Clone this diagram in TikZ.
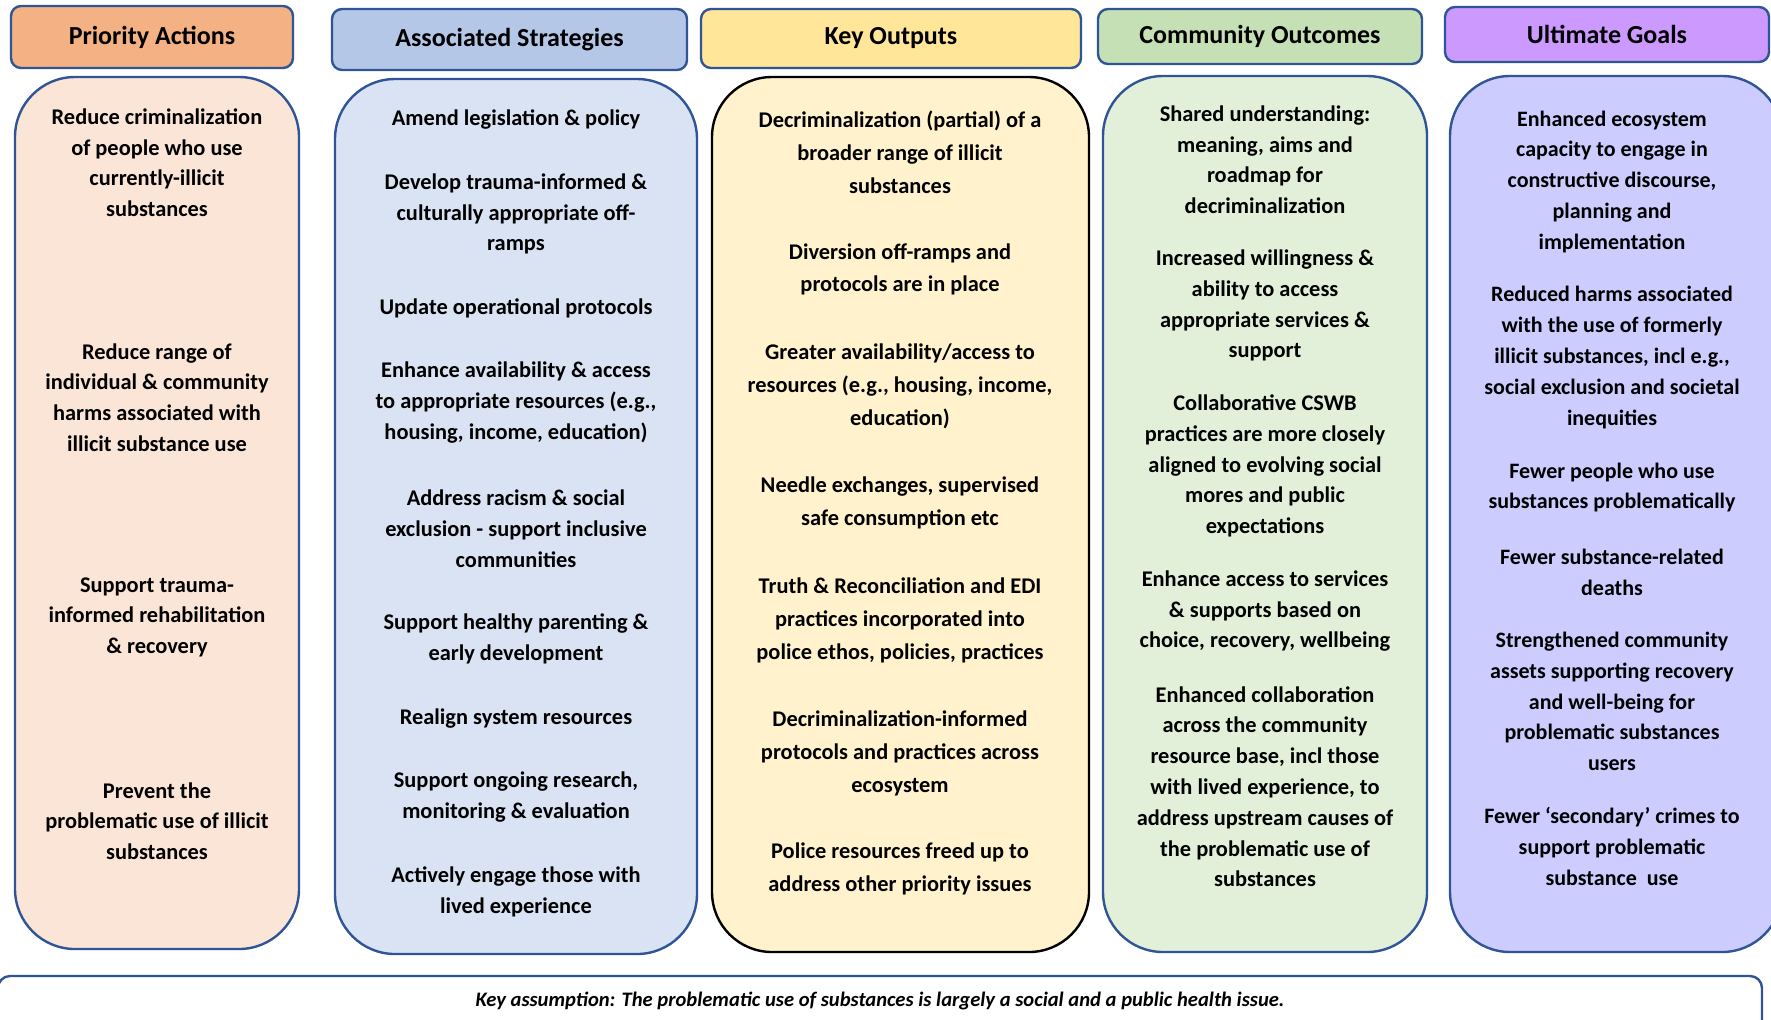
\documentclass[tikz,border=0pt]{standalone}
\usepackage{fontspec}
\setmainfont{Carlito}

\definecolor{bordblue}{HTML}{2F5597}
\definecolor{hd1}{HTML}{F4B183}
\definecolor{hd2}{HTML}{B4C7E7}
\definecolor{hd3}{HTML}{FFE699}
\definecolor{hd4}{HTML}{C5E0B4}
\definecolor{hd5}{HTML}{CC99FF}
\definecolor{pnl1}{HTML}{FBE5D6}
\definecolor{pnl2}{HTML}{DAE3F3}
\definecolor{pnl3}{HTML}{FFF2CC}
\definecolor{pnl4}{HTML}{E2F0D9}
\definecolor{pnl5}{HTML}{CCCCFF}

\begin{document}
\begin{tikzpicture}[x=0.5pt,y=-0.5pt,
    header/.style={draw=bordblue, line width=1.2pt, rounded corners=5pt,
        font=\bfseries\fontsize{13}{15}\selectfont, inner sep=0pt},
    panel/.style={line width=1.2pt, rounded corners=30pt, inner sep=0pt},
    item/.style={align=center, font=\bfseries\fontsize{11.2}{15.4}\selectfont, inner sep=0pt}]
    \clip (0,0) rectangle (1771,1019);
    % Headers
    \foreach \name/\i/\x/\y/\w/\h in {Priority Actions/1/152/37/141/31,
        Associated Strategies/2/509.5/39.5/177.5/30.5,
        Key Outputs/3/891/38.5/190/29.5,
        Community Outcomes/4/1260/36.5/162/27.5,
        Ultimate Goals/5/1607/34.5/162/27.5} {
        \node[header, fill=hd\i, minimum width=\w pt, minimum height=\h pt]
        (Header-\i) at (\x,\y) {\name};
    }
    % Panels
    \foreach \i/\x/\y/\w/\h/\edge in {1/157/513/142/436/bordblue,
        2/516/516.5/181/437.5/bordblue,
        3/900.5/514.5/188.5/437.5/black,
        4/1265/514/162/438/bordblue,
        5/1616/514/166/438/bordblue} {
        \node[panel, draw=\edge, fill=pnl\i, minimum width=\w pt, minimum height=\h pt]
        (Panel-\i) at (\x,\y) {};
    }
    % Priority actions
    \foreach \y/\txt [count=\i] in {
        162.6/{Reduce criminalization\\of people who use\\currently-illicit\\substances},
        397.6/{Reduce range of\\individual \& community\\harms associated with\\illicit substance use},
        617.3/{Support trauma-\\informed rehabilitation\\\& recovery},
        821.1/{Prevent the\\problematic use of illicit\\substances}} {
        \node[item] (Action-\i) at (157,\y) {\txt};
    }
    % Associated strategies
    \foreach \y/\txt [count=\i] in {
        119.7/{Amend legislation \& policy},
        214.0/{Develop trauma-informed \&\\culturally appropriate off-\\ramps},
        308.4/{Update operational protocols},
        402.7/{Enhance availability \& access\\to appropriate resources (e.g.,\\housing, income, education)},
        528.6/{Address racism \& social\\exclusion - support inclusive\\communities},
        638.7/{Support healthy parenting \&\\early development},
        718.4/{Realign system resources},
        796.9/{Support ongoing research,\\monitoring \& evaluation},
        891.7/{Actively engage those with\\lived experience}} {
        \node[item] (Strategy-\i) at (516,\y) {\txt};
    }
    % Key outputs
    \foreach \y/\txt [count=\i] in {
        152.5/{Decriminalization (partial) of a\\broader range of illicit\\substances},
        269.4/{Diversion off-ramps and\\protocols are in place},
        386.3/{Greater availability/access to\\resources (e.g., housing, income,\\education)},
        503.2/{Needle exchanges, supervised\\safe consumption etc},
        620.1/{Truth \& Reconciliation and EDI\\practices incorporated into\\police ethos, policies, practices},
        753.4/{Decriminalization-informed\\protocols and practices across\\ecosystem},
        869.2/{Police resources freed up to\\address other priority issues}} {
        \node[item, font=\bfseries\fontsize{11.2}{16.4}\selectfont] (Output-\i) at (900,\y) {\txt};
    }
    % Community outcomes
    \foreach \y/\txt [count=\i] in {
        159.8/{Shared understanding:\\meaning, aims and\\roadmap for\\decriminalization},
        305.5/{Increased willingness \&\\ability to access\\appropriate services \&\\support},
        465.9/{Collaborative CSWB\\practices are more closely\\aligned to evolving social\\mores and public\\expectations},
        611.1/{Enhance access to services\\\& supports based on\\choice, recovery, wellbeing},
        786.7/{Enhanced collaboration\\across the community\\resource base, incl those\\with lived experience, to\\address upstream causes of\\the problematic use of\\substances}} {
        \node[item] (Outcome-\i) at (1265,\y) {\txt};
    }
    % Ultimate goals
    \foreach \y/\txt [count=\i] in {
        181.8/{Enhanced ecosystem\\capacity to engage in\\constructive discourse,\\planning and\\implementation},
        357.5/{Reduced harms associated\\with the use of formerly\\illicit substances, incl e.g.,\\social exclusion and societal\\inequities},
        487.4/{Fewer people who use\\substances problematically},
        572.1/{Fewer substance-related\\deaths},
        701.4/{Strengthened community\\assets supporting recovery\\and well-being for\\problematic substances\\users},
        846.6/{Fewer ‘secondary’ crimes to\\support problematic\\substance~ use}} {
        \node[item, font=\bfseries\fontsize{11}{15.4}\selectfont] (Goal-\i) at (1612,\y) {\txt};
    }
    % Key assumption
    \node[panel, draw=bordblue, rounded corners=6pt, minimum width=882pt, minimum height=34pt]
    (Bar) at (880,1010) {};
    \node[font=\bfseries\itshape\fontsize{10.3}{12}\selectfont, inner sep=0pt] (Assumption) at (880,1001)
    {Key assumption: The problematic use of substances is largely a social and a public health issue.};
\end{tikzpicture}
\end{document}
